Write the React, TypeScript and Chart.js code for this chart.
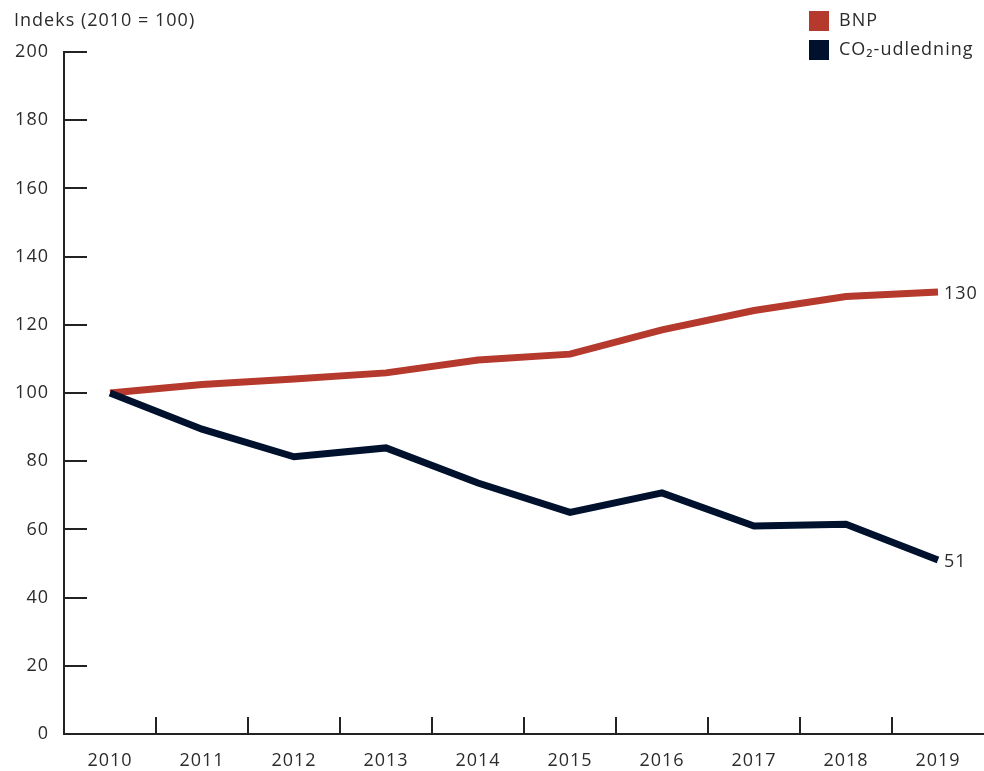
import React, { useEffect, useRef } from "react";
import { Chart, registerables } from "chart.js";

Chart.register(...registerables);

const years = ["2010", "2011", "2012", "2013", "2014", "2015", "2016", "2017", "2018", "2019"];
const bnp = [100, 102.5, 104.1, 105.9, 109.7, 111.4, 118.5, 124.2, 128.3, 129.6];
const co2 = [100, 89.4, 81.3, 83.9, 73.6, 65.0, 70.7, 61.0, 61.5, 51.0];
const yTicks = [0, 20, 40, 60, 80, 100, 120, 140, 160, 180, 200];
const seriesNames = ["BNP", "CO₂-udledning"];
const endLabels = ["130", "51"];
const yTitle = "Indeks (2010 = 100)";

const RED = "#b5392c";
const NAVY = "#00112e";
const TEXT = "#2b2b2b";
const AXIS = "#222222";
const FONT = "'Open Sans', sans-serif";
const SPACING = "1px";

const decorPlugin = {
  id: "decor",
  beforeDraw(chart: any) {
    chart.ctx.letterSpacing = SPACING;
  },
  afterDatasetsDraw(chart: any) {
    const ctx = chart.ctx;
    const area = chart.chartArea;
    const xs = chart.scales.x;
    const ys = chart.scales.y;
    ctx.save();
    ctx.letterSpacing = SPACING;
    ctx.strokeStyle = AXIS;
    ctx.lineWidth = 2;
    yTicks.forEach((v) => {
      const py = Math.round(ys.getPixelForValue(v));
      ctx.beginPath();
      ctx.moveTo(area.left, py);
      ctx.lineTo(area.left + 23, py);
      ctx.stroke();
    });
    for (let i = 1; i < years.length; i++) {
      const px = Math.round((xs.getPixelForValue(i - 1) + xs.getPixelForValue(i)) / 2);
      ctx.beginPath();
      ctx.moveTo(px, area.bottom);
      ctx.lineTo(px, area.bottom - 17);
      ctx.stroke();
    }
    ctx.fillStyle = TEXT;
    ctx.font = `18px ${FONT}`;
    ctx.textAlign = "left";
    ctx.textBaseline = "middle";
    ctx.fillText(yTitle, 14, 21);
    const colors = [RED, NAVY];
    seriesNames.forEach((name, i) => {
      const y0 = 11 + i * 29;
      ctx.fillStyle = colors[i];
      ctx.fillRect(809, y0, 20, 20);
      ctx.fillStyle = TEXT;
      ctx.fillText(name, 839, y0 + 10);
    });
    chart.data.datasets.forEach((ds: any, di: number) => {
      const meta = chart.getDatasetMeta(di);
      const last = meta.data[meta.data.length - 1];
      ctx.fillStyle = TEXT;
      ctx.fillText(endLabels[di], last.x + 6, last.y + 2);
    });
    ctx.restore();
  },
};

export default function App() {
  const ref = useRef<HTMLCanvasElement>(null);
  useEffect(() => {
    document.body.style.margin = "0";
    const chart = new Chart(ref.current as HTMLCanvasElement, {
      type: "line",
      data: {
        labels: years,
        datasets: [
          {
            label: seriesNames[0],
            data: bnp,
            borderColor: RED,
            backgroundColor: RED,
            borderWidth: 7,
            pointRadius: 0,
            tension: 0,
            order: 2,
          },
          {
            label: seriesNames[1],
            data: co2,
            borderColor: NAVY,
            backgroundColor: NAVY,
            borderWidth: 7,
            pointRadius: 0,
            tension: 0,
            order: 1,
          },
        ],
      },
      options: {
        responsive: false,
        animation: false,
        layout: { padding: { top: 52, right: 0, left: 0, bottom: 0 } },
        plugins: { legend: { display: false }, tooltip: { enabled: false } },
        scales: {
          x: {
            offset: true,
            grid: { display: false, drawTicks: false },
            border: { display: true, color: AXIS, width: 2 },
            ticks: { color: TEXT, font: { family: FONT, size: 18 }, padding: 16 },
            afterFit: (s: any) => { s.height = 37; },
          },
          y: {
            min: 0,
            max: 200,
            afterBuildTicks: (s: any) => { s.ticks = yTicks.map((v) => ({ value: v })); },
            grid: { display: false, drawTicks: false },
            border: { display: true, color: AXIS, width: 2 },
            ticks: { color: TEXT, font: { family: FONT, size: 18 }, padding: 15 },
            afterFit: (s: any) => { s.width = 64; },
          },
        },
      },
      plugins: [decorPlugin],
    });
    return () => chart.destroy();
  }, []);
  return (
    <div style={{ position: "absolute", left: 0, top: 0 }}>
      <canvas ref={ref} width={984} height={771} style={{ display: "block" }} />
    </div>
  );
}
